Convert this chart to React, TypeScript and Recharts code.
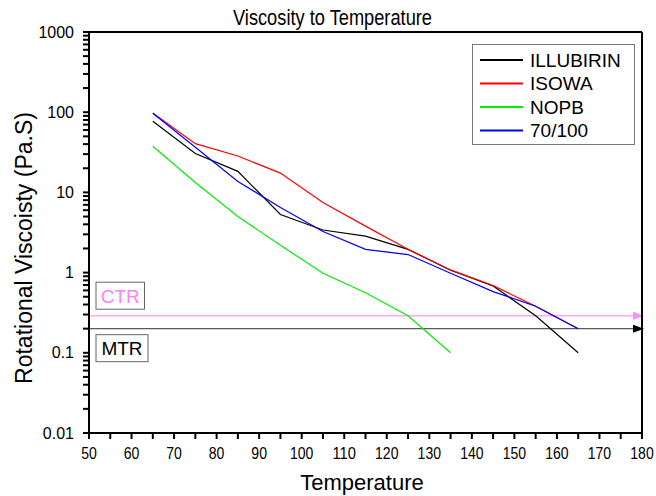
import React from 'react';
import { LineChart, Line, XAxis, YAxis, ReferenceLine, Legend } from 'recharts';

const TEMPS = [65, 75, 85, 95, 105, 115, 125, 135, 145, 155, 165];
const ILLUBIRIN = [77, 30.5, 18.3, 5.3, 3.4, 2.85, 1.95, 1.07, 0.68, 0.29, 0.1];
const ISOWA = [98, 40.5, 28.4, 17.4, 7.5, 3.8, 1.95, 1.08, 0.69, 0.38, 0.2];
const NOPB = [37.6, 13.3, 5.0, 2.2, 0.98, 0.56, 0.29, 0.1];
const PEN_70_100 = [97, 36.5, 13.7, 6.5, 3.25, 1.95, 1.68, 0.98, 0.58, 0.38, 0.2];

const SERIES = [
  { key: 'illubirin', name: 'ILLUBIRIN', color: '#000000', values: ILLUBIRIN },
  { key: 'isowa', name: 'ISOWA', color: '#ff0000', values: ISOWA },
  { key: 'nopb', name: 'NOPB', color: '#00ee00', values: NOPB },
  { key: 'pen', name: '70/100', color: '#0000ff', values: PEN_70_100 },
];

const X_TICK_LABELS = [50, 60, 70, 80, 90, 100, 110, 120, 130, 140, 150, 160, 170, 180];
const Y_TICK_LABELS = [0.01, 0.1, 1, 10, 100, 1000];

const CTR = 0.29;
const MTR = 0.2;

const data = TEMPS.map((t, i) => {
  const row: any = { temp: t };
  SERIES.forEach((s) => {
    row[s.key] = s.values[i];
  });
  return row;
});

const X_ALL_TICKS: number[] = [];
X_TICK_LABELS.forEach((v, i) => {
  X_ALL_TICKS.push(v);
  if (i < X_TICK_LABELS.length - 1) X_ALL_TICKS.push((v + X_TICK_LABELS[i + 1]) / 2);
});
const X_MAJOR = new Set(X_TICK_LABELS);

const Y_ALL_TICKS: number[] = [];
Y_TICK_LABELS.forEach((v, i) => {
  Y_ALL_TICKS.push(v);
  if (i < Y_TICK_LABELS.length - 1) {
    for (let m = 2; m <= 9; m++) Y_ALL_TICKS.push(v * m);
  }
});
const isMajorLog = (v: number) => Math.abs(Math.log10(v) - Math.round(Math.log10(v))) < 1e-6;
const fmtLog = (v: number) => {
  const e = Math.round(Math.log10(v));
  return e >= 0 ? String(Math.pow(10, e)) : Math.pow(10, e).toFixed(-e);
};

const FONT = '"Liberation Sans", Arial, sans-serif';
const TS = 6; // tick size

const LeftTick = (props: any) => {
  const { x, y, payload } = props;
  const v = payload.value;
  if (!isMajorLog(v)) return <g />;
  return (
    <text x={x - 9} y={y} dy="0.35em" textAnchor="end" fontSize={16} fontFamily={FONT} fill="#000" stroke="none" strokeWidth={0}>
      {fmtLog(v)}
    </text>
  );
};

const BottomTick = (props: any) => {
  const { x, y, payload } = props;
  if (!X_MAJOR.has(payload.value)) return <g />;
  const label = String(payload.value);
  return (
    <text
      x={x}
      y={y + 20}
      textAnchor="middle"
      fontSize={16}
      fontFamily={FONT}
      textLength={label.length * 7.8}
      lengthAdjust="spacingAndGlyphs"
      fill="#000"
      stroke="none"
      strokeWidth={0}
    >
      {label}
    </text>
  );
};

const makeRefLabel = (text: string, color: string, textColor: string, above: boolean) => (props: any) => {
  const vb = props.viewBox || {};
  const x0 = vb.x;
  const y0 = vb.y;
  const x1 = vb.x + vb.width;
  const bw = text === 'MTR' ? 52 : 48.5;
  const bh = 27;
  const by = above ? y0 - 6.5 - bh : y0 + 6;
  return (
    <g>
      <polygon points={`${x1 - 9},${y0 - 4} ${x1 - 9},${y0 + 4} ${x1 + 2},${y0}`} fill={color} />
      <rect x={x0 + 7} y={by} width={bw} height={bh} fill="#fff" stroke="#666" strokeWidth={1} />
      <text
        x={x0 + 7 + bw / 2}
        y={by + bh / 2}
        dy="0.36em"
        textAnchor="middle"
        fontSize={19}
        fontFamily={FONT}
        fill={textColor}
      >
        {text}
      </text>
    </g>
  );
};

const LegendBox = () => (
  <svg width={164} height={102} style={{ display: 'block' }}>
    <rect x={0.5} y={0.5} width={162} height={100} fill="#fff" stroke="#777" strokeWidth={1} />
    {SERIES.map((s, i) => {
      const cy = 16 + i * 23.5;
      return (
        <g key={s.key}>
          <line x1={8} x2={51} y1={cy} y2={cy} stroke={s.color} strokeWidth={2} />
          <text x={58} y={cy} dy="0.36em" fontSize={19} fontFamily={FONT} fill="#000">
            {s.name}
          </text>
        </g>
      );
    })}
  </svg>
);

const YTitle = () => (
  <text
    x={32}
    y={248}
    transform="rotate(-90 32 248)"
    textAnchor="middle"
    fontSize={23}
    fontFamily={FONT}
    fill="#000"
    stroke="none"
  >
    Rotational Viscoisty (Pa.S)
  </text>
);

const XTitle = () => (
  <text x={362} y={490} textAnchor="middle" fontSize={22} fontFamily={FONT} fill="#000" stroke="none">
    Temperature
  </text>
);

const TopTitle = () => (
  <text
    x={332.5}
    y={25}
    textAnchor="middle"
    fontSize={22}
    fontFamily={FONT}
    textLength={199}
    lengthAdjust="spacingAndGlyphs"
    fill="#000"
    stroke="none"
  >
    Viscosity to Temperature
  </text>
);

export default function App() {
  return (
    <div style={{ position: 'absolute', left: 0, top: 0, width: 656, height: 496, background: '#fff' }}>
      <LineChart width={656} height={496} data={data} margin={{ top: 32, right: 14, bottom: 0, left: 0 }}>
        <XAxis
          xAxisId="b"
          dataKey="temp"
          type="number"
          domain={[50, 180]}
          ticks={X_ALL_TICKS}
          interval={0}
          height={63}
          stroke="#000"
          strokeWidth={2}
          tickSize={TS}
          tickMargin={0}
          tickLine
          tick={<BottomTick />}
          axisLine
          allowDataOverflow
          label={<XTitle />}
        />
        <XAxis
          xAxisId="t"
          orientation="top"
          mirror
          type="number"
          domain={[50, 180]}
          ticks={X_ALL_TICKS}
          interval={0}
          height={1}
          stroke="#000"
          strokeWidth={2}
          tickSize={TS}
          tickLine
          tick={false}
          axisLine
          allowDataOverflow
          label={<TopTitle />}
        />
        <YAxis
          yAxisId="l"
          scale="log"
          type="number"
          domain={[0.01, 1000]}
          ticks={Y_ALL_TICKS}
          interval={0}
          width={89}
          stroke="#000"
          strokeWidth={2}
          tickSize={TS}
          tickMargin={0}
          tickLine
          tick={<LeftTick />}
          axisLine
          allowDataOverflow
          label={<YTitle />}
        />
        <YAxis
          yAxisId="r"
          orientation="right"
          mirror
          scale="log"
          type="number"
          domain={[0.01, 1000]}
          ticks={Y_ALL_TICKS}
          interval={0}
          width={1}
          stroke="#000"
          strokeWidth={2}
          tickSize={TS}
          tickLine
          tick={false}
          axisLine
          allowDataOverflow
        />
        <ReferenceLine
          xAxisId="b"
          yAxisId="l"
          y={CTR}
          stroke="#ffa6ff"
          strokeWidth={1.5}
          label={makeRefLabel('CTR', '#ff8cff', '#ff80ff', true)}
        />
        <ReferenceLine
          xAxisId="b"
          yAxisId="l"
          y={MTR}
          stroke="#5a5a5a"
          strokeWidth={1.2}
          label={makeRefLabel('MTR', '#000', '#000', false)}
        />
        {SERIES.map((s) => (
          <Line
            key={s.key}
            xAxisId="b"
            yAxisId="l"
            dataKey={s.key}
            name={s.name}
            stroke={s.color}
            strokeWidth={1.2}
            dot={false}
            activeDot={false}
            isAnimationActive={false}
            connectNulls={false}
          />
        ))}
        <Legend
          layout="vertical"
          align="center"
          verticalAlign="middle"
          content={<LegendBox />}
          wrapperStyle={{ left: 472, top: 44, width: 164, height: 102, right: 'auto', bottom: 'auto' }}
        />
      </LineChart>
    </div>
  );
}
